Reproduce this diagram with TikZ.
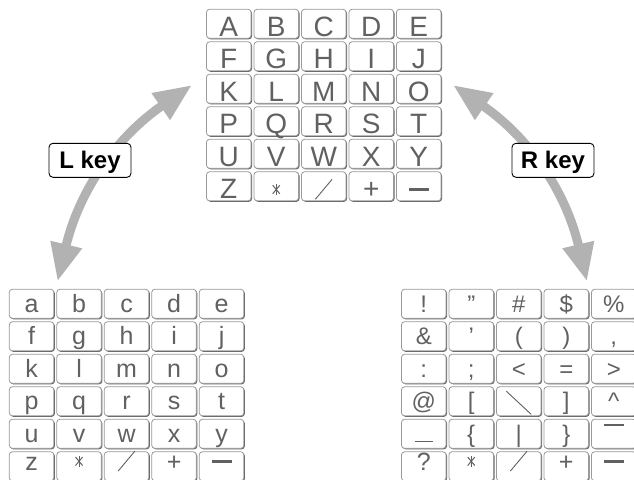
\documentclass[tikz,border=0pt]{standalone}
\usepackage{fontspec}
\setmainfont{Liberation Sans}
\usetikzlibrary{positioning,shadows,arrows.meta}

% one row of five keys: style, name, x, y, labels
\newcommand\keyrow[9]{%
  \node[#1, anchor=north west] (#2-1) at (#3,#4) {#5};
  \node[#1, right=3pt of #2-1] (#2-2) {#6};
  \node[#1, right=3pt of #2-2] (#2-3) {#7};
  \node[#1, right=3pt of #2-3] (#2-4) {#8};
  \node[#1, right=3pt of #2-4] (#2-5) {#9};
}
\newcommand\kspoke[1]{\makebox[0pt]{\rotatebox[origin=c]{#1}{\rule[-0.5pt]{11pt}{1pt}}}}
\newcommand\kast{\raisebox{9pt}{\makebox[10pt]{\kspoke{90}\kspoke{50}\kspoke{130}}}}
\newcommand\kslash{\raisebox{-1pt}{\rotatebox{50}{\rule{26pt}{0.9pt}}}}
\newcommand\kback{\raisebox{18pt}{\rotatebox{-43}{\rule{34pt}{0.9pt}}}}
\newcommand\kminus{\raisebox{7.5pt}{\rule{20pt}{3pt}}}
\newcommand\kunder{\rule{18pt}{1.4pt}}
\newcommand\kover{\raisebox{16.3pt}{\rule{20pt}{1.4pt}}}

\begin{document}
\begin{tikzpicture}[x=1pt, y=-1pt,
    keycap/.style={draw=gray!80, fill=white, line width=0.8pt, rounded corners=3pt,
      minimum width=44.5pt, minimum height=29pt, inner sep=0pt, outer sep=0pt,
      text depth=0pt, text=black!62,
      drop shadow={shadow xshift=1pt, shadow yshift=-1pt, fill=black!60, opacity=1}},
    upperkey/.style={keycap, font=\fontsize{28}{28}\selectfont, text height=24.4pt},
    lowerkey/.style={keycap, font=\fontsize{25}{25}\selectfont, text height=16.4pt},
    symkey/.style={keycap, font=\fontsize{24}{24}\selectfont, text height=16.4pt},
    lastkey/.style={keycap, font=\fontsize{25}{25}\selectfont, text height=8pt},
    swaparrow/.style={{Triangle[length=38pt,width=30pt]}-{Triangle[length=38pt,width=30pt]},
      line width=9pt, draw=gray!60},
    keylabel/.style={draw=black, fill=white, line width=0.9pt, rounded corners=4pt,
      minimum width=82pt, minimum height=34pt, inner sep=0pt,
      text height=17pt, text depth=0pt, font=\fontsize{24}{24}\selectfont\bfseries}
  ]
    \clip (0,0) rectangle (634,479);

    % upper case
    \keyrow{upperkey}{up1}{206.5}{9.3}{A}{B}{C}{D}{E}
    \keyrow{upperkey}{up2}{206.5}{41.8}{F}{G}{H}{I}{J}
    \keyrow{upperkey}{up3}{206.5}{74.3}{K}{L}{M}{N}{O}
    \keyrow{upperkey}{up4}{206.5}{106.8}{P}{Q}{R}{S}{T}
    \keyrow{upperkey}{up5}{206.5}{139.3}{U}{V}{W}{X}{Y}
    \keyrow{upperkey}{up6}{206.5}{171.8}{Z}{\kast}{\kslash}{+}{\kminus}

    % lower case
    \keyrow{lowerkey}{lo1}{9.3}{289.3}{a}{b}{c}{d}{e}
    \keyrow{lowerkey}{lo2}{9.3}{321.8}{f}{g}{h}{i}{j}
    \keyrow{lowerkey}{lo3}{9.3}{354.3}{k}{l}{m}{n}{o}
    \keyrow{lowerkey}{lo4}{9.3}{386.8}{p}{q}{r}{s}{t}
    \keyrow{lowerkey}{lo5}{9.3}{419.3}{u}{v}{w}{x}{y}
    \keyrow{lastkey}{lo6}{9.3}{451.8}{z}{\kast}{\kslash}{+}{\kminus}

    % symbols
    \keyrow{symkey}{sy1}{401.5}{289.3}{!}{\textquotedblright}{\#}{\$}{\%}
    \keyrow{symkey}{sy2}{401.5}{321.8}{\&}{\textquoteright}{(}{)}{,}
    \keyrow{symkey}{sy3}{401.5}{354.3}{:}{;}{<}{=}{>}
    \keyrow{symkey}{sy4}{401.5}{386.8}{@}{[}{\kback}{]}{\textasciicircum}
    \keyrow{symkey}{sy5}{401.5}{419.3}{\kunder}{\{}{|}{\}}{\kover}
    \keyrow{lastkey}{sy6}{401.5}{451.8}{?}{\kast}{\kslash}{+}{\kminus}

    % arrows
    \coordinate (lbot) at (57.5,281.5);
    \coordinate (ltop) at (192,85);
    \coordinate (rbot) at (587,281.5);
    \coordinate (rtop) at (453,85);
    \draw[swaparrow] (lbot) to[bend left=21] (ltop);
    \draw[swaparrow] (rbot) to[bend right=21] (rtop);

    % key labels
    \node[keylabel] (lkey) at (90,160.3) {L key};
    \node[keylabel] (rkey) at (553,160.3) {R key};
  \end{tikzpicture}
\end{document}
